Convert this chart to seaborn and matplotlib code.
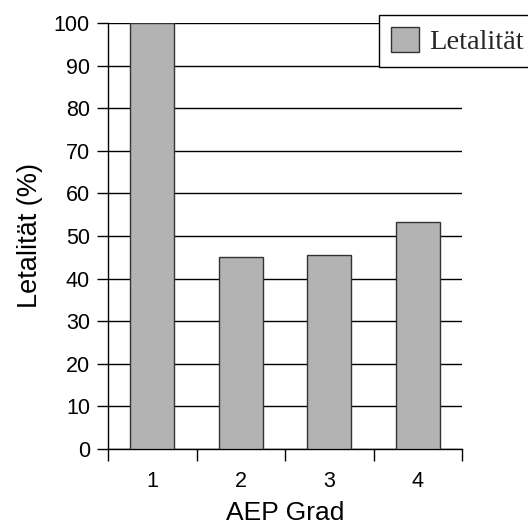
import numpy as np
import matplotlib.pyplot as plt
import pandas as pd
import seaborn as sns

# Data
grades = ['1', '2', '3', '4']
letality = [100, 45, 45.5, 53.3]

df = pd.DataFrame({'AEP Grad': grades, 'Letalität': letality})

sns.set_theme(style='white')
plt.rcParams['font.family'] = ['Liberation Sans', 'DejaVu Sans']

fig = plt.figure(figsize=(5.28, 5.26), dpi=100)
ax = fig.add_axes([108/528, 1 - 449/526, (462-108)/528, (449-23)/526])

sns.barplot(data=df, x='AEP Grad', y='Letalität', ax=ax, color='#b3b3b3',
            saturation=1, width=0.5, edgecolor='#333333', linewidth=1,
            label='Letalität', zorder=3)

# horizontal grid
ax.set_ylim(0, 100)
ax.set_yticks(np.arange(0, 101, 10))
ax.yaxis.grid(True, color='black', linewidth=1)
ax.set_axisbelow(True)
ax.set_xlim(-0.5, 3.5)

# ticks at category borders
ax.set_xticks(np.arange(4))
ax.set_xticks(np.arange(-0.5, 4, 1), minor=True)
ax.tick_params(axis='x', which='major', length=0, pad=16, labelsize=15.5, colors='black')
ax.tick_params(axis='x', which='minor', length=8.5, width=1, direction='out', bottom=True, color='black')
ax.tick_params(axis='y', length=8, width=1, direction='out', left=True, labelsize=15.5, colors='black', pad=5)

for s in ['top', 'right']:
    ax.spines[s].set_visible(False)
for s in ['left', 'bottom']:
    ax.spines[s].set_color('black')
    ax.spines[s].set_linewidth(1)

ax.set_xlabel('AEP Grad', fontsize=19, labelpad=6, color='black')
ax.set_ylabel('Letalität (%)', fontsize=19.5, labelpad=8, color='black')

leg = ax.legend(loc='upper left', bbox_to_anchor=(379/528, 1 - 15/526),
                bbox_transform=fig.transFigure, frameon=True, fancybox=False,
                edgecolor='black', framealpha=1, borderaxespad=0,
                prop={'family': 'Liberation Serif', 'size': 20.5},
                handlelength=1.0, handleheight=1.0, handletextpad=0.35,
                borderpad=0.42)
leg.get_frame().set_linewidth(1)

fig.savefig('out.png', dpi=100)
